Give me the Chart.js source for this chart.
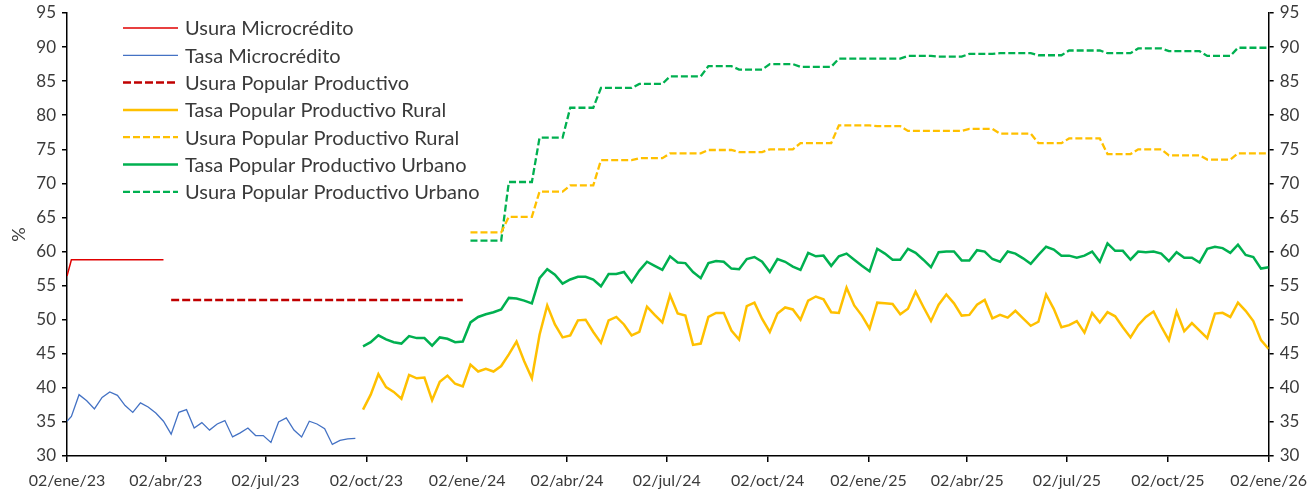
<!DOCTYPE html>
<html>
<head>
<meta charset="utf-8">
<script src="https://cdn.jsdelivr.net/npm/chart.js@4/dist/chart.umd.min.js"></script>
<style>
  body { margin: 0; background: #fff; }
  #wrap { width: 1316px; height: 491px; }
</style>
</head>
<body>
<div id="wrap"><canvas id="tasasChart" width="1316" height="491"></canvas></div>
<script>
// fechas de corte del eje x
const xTickDates = ['2023-01-02', '2023-04-02', '2023-07-02', '2023-10-02', '2024-01-02', '2024-04-02',
  '2024-07-02', '2024-10-02', '2025-01-02', '2025-04-02', '2025-07-02', '2025-10-02', '2026-01-02'];
const xTickLabels = ['02/ene/23', '02/abr/23', '02/jul/23', '02/oct/23', '02/ene/24', '02/abr/24',
  '02/jul/24', '02/oct/24', '02/ene/25', '02/abr/25', '02/jul/25', '02/oct/25', '02/ene/26'];
const yTicks = [30, 35, 40, 45, 50, 55, 60, 65, 70, 75, 80, 85, 90, 95];

// series semanales (viernes)
const inicioMicro = '2023-01-06';
const inicioUsuraPopular = '2023-04-07';
const inicioTasaPopular = '2023-09-29';
const inicioUsuraRuralUrbano = '2024-01-05';

const primerDiaMicro = '2023-01-02';
const usuraMicroInicial = 56.4;
const tasaMicroInicial = 35.1;

const usuraMicro = [58.8, 58.8, 58.8, 58.8, 58.8, 58.8, 58.8, 58.8, 58.8, 58.8, 58.8, 58.8, 58.8];

const tasaMicro = [35.8, 39.0, 38.1, 36.9, 38.6, 39.4, 38.9, 37.4, 36.4, 37.8, 37.2, 36.3, 35.1, 33.2,
  36.4, 36.8, 34.1, 34.9, 33.8, 34.7, 35.2, 32.8, 33.4, 34.1, 33.0, 33.0, 32.0, 35.0, 35.6, 33.8,
  32.8, 35.1, 34.7, 34.0, 31.7, 32.3, 32.5, 32.6];

const usuraPopular = [52.9, 52.9, 52.9, 52.9, 52.9, 52.9, 52.9, 52.9, 52.9, 52.9, 52.9, 52.9, 52.9,
  52.9, 52.9, 52.9, 52.9, 52.9, 52.9, 52.9, 52.9, 52.9, 52.9, 52.9, 52.9, 52.9, 52.9, 52.9, 52.9,
  52.9, 52.9, 52.9, 52.9, 52.9, 52.9, 52.9, 52.9, 52.9, 52.9];

const tasaRural = [36.8, 39.0, 42.0, 40.1, 39.4, 38.4, 41.9, 41.4, 41.5, 38.2, 40.9, 41.8, 40.6, 40.2,
  43.4, 42.4, 42.8, 42.4, 43.2, 44.9, 46.8, 43.9, 41.4, 47.8, 52.1, 49.3, 47.4, 47.7, 49.9, 50.0,
  48.2, 46.6, 49.9, 50.4, 49.3, 47.7, 48.2, 51.9, 50.7, 49.6, 53.6, 50.9, 50.6, 46.3, 46.5, 50.4,
  51.0, 51.0, 48.4, 47.1, 52.0, 52.5, 50.1, 48.2, 50.9, 51.8, 51.5, 50.0, 52.8, 53.4, 53.0, 51.1,
  51.0, 54.7, 52.1, 50.6, 48.7, 52.5, 52.4, 52.3, 50.8, 51.6, 54.1, 51.9, 49.8, 52.2, 53.7, 52.4,
  50.6, 50.7, 52.2, 52.9, 50.2, 50.7, 50.3, 51.3, 50.2, 49.1, 49.7, 53.7, 51.6, 48.9, 49.2, 49.8,
  48.1, 51.0, 49.6, 51.1, 50.5, 48.9, 47.4, 49.2, 50.4, 51.2, 49.0, 47.0, 51.2, 48.3, 49.5, 48.4,
  47.3, 50.9, 51.0, 50.4, 52.5, 51.3, 49.8, 47.0, 45.7];

const tasaUrbano = [46.1, 46.7, 47.7, 47.1, 46.7, 46.5, 47.6, 47.3, 47.3, 46.2, 47.4, 47.2, 46.7, 46.8,
  49.6, 50.4, 50.8, 51.1, 51.5, 53.2, 53.1, 52.8, 52.4, 56.1, 57.4, 56.6, 55.3, 55.9, 56.3, 56.3,
  55.9, 54.9, 56.7, 56.7, 57.0, 55.5, 57.2, 58.5, 57.9, 57.3, 59.3, 58.4, 58.3, 57.0, 56.1, 58.3,
  58.6, 58.5, 57.5, 57.4, 58.9, 59.2, 58.5, 57.0, 58.9, 58.5, 57.8, 57.3, 59.8, 59.3, 59.4, 57.9,
  59.3, 59.7, 58.8, 57.9, 57.1, 60.4, 59.7, 58.8, 58.8, 60.4, 59.8, 58.8, 57.7, 59.9, 60.0, 60.0,
  58.7, 58.7, 60.2, 60.0, 58.9, 58.5, 60.0, 59.7, 59.0, 58.2, 59.5, 60.7, 60.3, 59.4, 59.4, 59.1,
  59.4, 60.0, 58.5, 61.2, 60.1, 60.1, 58.8, 60.0, 59.9, 60.0, 59.7, 58.6, 59.9, 59.1, 59.1, 58.4,
  60.4, 60.7, 60.5, 59.8, 61.0, 59.5, 59.2, 57.5, 57.7];

const usuraRural = [62.8, 62.8, 62.8, 62.8, 62.8, 65.1, 65.1, 65.1, 65.1, 68.8, 68.8, 68.8, 68.8,
  69.7, 69.7, 69.7, 69.7, 73.4, 73.4, 73.4, 73.4, 73.4, 73.7, 73.7, 73.7, 73.7, 74.4, 74.4, 74.4,
  74.4, 74.4, 74.9, 74.9, 74.9, 74.9, 74.6, 74.6, 74.6, 74.6, 75.0, 75.0, 75.0, 75.0, 75.9, 75.9,
  75.9, 75.9, 75.9, 78.5, 78.5, 78.5, 78.5, 78.5, 78.4, 78.4, 78.4, 78.4, 77.7, 77.7, 77.7, 77.7,
  77.7, 77.7, 77.7, 77.7, 78.0, 78.0, 78.0, 78.0, 77.3, 77.3, 77.3, 77.3, 77.3, 75.9, 75.9, 75.9,
  75.9, 76.6, 76.6, 76.6, 76.6, 76.6, 74.3, 74.3, 74.3, 74.3, 75.0, 75.0, 75.0, 75.0, 74.1, 74.1,
  74.1, 74.1, 74.1, 73.5, 73.5, 73.5, 73.5, 74.4, 74.4, 74.4, 74.4, 74.4];

const usuraUrbano = [61.6, 61.6, 61.6, 61.6, 61.6, 70.2, 70.2, 70.2, 70.2, 76.7, 76.7, 76.7, 76.7,
  81.1, 81.1, 81.1, 81.1, 84.0, 84.0, 84.0, 84.0, 84.0, 84.6, 84.6, 84.6, 84.6, 85.7, 85.7, 85.7,
  85.7, 85.7, 87.2, 87.2, 87.2, 87.2, 86.7, 86.7, 86.7, 86.7, 87.5, 87.5, 87.5, 87.5, 87.1, 87.1,
  87.1, 87.1, 87.1, 88.3, 88.3, 88.3, 88.3, 88.3, 88.3, 88.3, 88.3, 88.3, 88.7, 88.7, 88.7, 88.7,
  88.6, 88.6, 88.6, 88.6, 89.0, 89.0, 89.0, 89.0, 89.1, 89.1, 89.1, 89.1, 89.1, 88.8, 88.8, 88.8,
  88.8, 89.5, 89.5, 89.5, 89.5, 89.5, 89.1, 89.1, 89.1, 89.1, 89.8, 89.8, 89.8, 89.8, 89.4, 89.4,
  89.4, 89.4, 89.4, 88.7, 88.7, 88.7, 88.7, 89.9, 89.9, 89.9, 89.9, 89.9];

// dias desde el 02/ene/23
const diaCero = Date.UTC(2023, 0, 2);
function dia(fecha) {
  const p = fecha.split('-').map(Number);
  return Math.round((Date.UTC(p[0], p[1] - 1, p[2]) - diaCero) / 86400000);
}
function semanal(inicio, valores) {
  const d0 = dia(inicio);
  return valores.map((v, i) => ({ x: d0 + 7 * i, y: v }));
}

const xTickDays = xTickDates.map(dia);
const textColor = '#3a3a3a';
const fontFam = 'Lato, "Open Sans", sans-serif';

const leyenda = {
  id: 'leyenda',
  afterDraw(chart) {
    const ctx = chart.ctx;
    ctx.save();
    ctx.font = '20px ' + fontFam;
    ctx.textBaseline = 'middle';
    ctx.textAlign = 'left';
    chart.data.datasets.forEach((ds, i) => {
      const y = 28 + i * 27.3;
      ctx.beginPath();
      ctx.strokeStyle = ds.borderColor;
      ctx.lineWidth = ds.borderWidth;
      ctx.setLineDash(ds.borderDash || []);
      ctx.moveTo(123, y);
      ctx.lineTo(178, y);
      ctx.stroke();
      ctx.setLineDash([]);
      ctx.fillStyle = textColor;
      ctx.fillText(ds.label, 185, y + 1);
    });
    ctx.restore();
  }
};

const ejeY = (pos, ancho) => ({
  type: 'linear',
  position: pos,
  min: 30,
  max: 95,
  afterBuildTicks: axis => { axis.ticks = yTicks.map(v => ({ value: v })); },
  afterFit: scale => { scale.width = ancho; scale.paddingTop = 13; },
  border: { display: true, color: '#000', width: 1.5 },
  grid: { drawOnChartArea: false, drawTicks: true, tickLength: 5, color: '#000', lineWidth: 1.5 },
  ticks: { color: textColor, font: { size: 17, family: fontFam }, padding: 6 }
});

const leftAxis = ejeY('left', 67);
leftAxis.title = { display: true, text: '%', color: textColor, font: { size: 18, family: fontFam }, padding: { top: 8, bottom: 0 } };

const ctx = document.getElementById('tasasChart').getContext('2d');
const tasasChart = new Chart(ctx, {
  type: 'line',
  data: {
    datasets: [
      { label: 'Usura Microcrédito', data: [{ x: dia(primerDiaMicro), y: usuraMicroInicial }].concat(semanal(inicioMicro, usuraMicro)),
        borderColor: '#e00000', borderWidth: 1.5 },
      { label: 'Tasa Microcrédito', data: [{ x: dia(primerDiaMicro), y: tasaMicroInicial }].concat(semanal(inicioMicro, tasaMicro)),
        borderColor: '#4472c4', borderWidth: 1.3 },
      { label: 'Usura Popular Productivo', data: semanal(inicioUsuraPopular, usuraPopular),
        borderColor: '#c00000', borderWidth: 2.5, borderDash: [8, 3] },
      { label: 'Tasa Popular Productivo Rural', data: semanal(inicioTasaPopular, tasaRural),
        borderColor: '#ffc000', borderWidth: 2.5 },
      { label: 'Usura Popular Productivo Rural', data: semanal(inicioUsuraRuralUrbano, usuraRural),
        borderColor: '#ffc000', borderWidth: 2.3, borderDash: [7, 3] },
      { label: 'Tasa Popular Productivo Urbano', data: semanal(inicioTasaPopular, tasaUrbano),
        borderColor: '#00b050', borderWidth: 2.5 },
      { label: 'Usura Popular Productivo Urbano', data: semanal(inicioUsuraRuralUrbano, usuraUrbano),
        borderColor: '#00b050', borderWidth: 2.3, borderDash: [7, 3] }
    ]
  },
  options: {
    responsive: false,
    animation: false,
    layout: { padding: { top: 0, left: 0, right: 0, bottom: 0 } },
    elements: { point: { radius: 0 }, line: { tension: 0, fill: false } },
    plugins: { legend: { display: false }, tooltip: { enabled: false } },
    scales: {
      x: {
        type: 'linear',
        min: 0,
        max: xTickDays[xTickDays.length - 1],
        afterBuildTicks: axis => { axis.ticks = xTickDays.map(v => ({ value: v })); },
        afterFit: scale => { scale.height = 35; },
        border: { display: true, color: '#000', width: 1.5 },
        grid: { drawOnChartArea: false, drawTicks: true, tickLength: 6, color: '#000', lineWidth: 1.5 },
        ticks: {
          color: textColor, font: { size: 16, family: fontFam }, padding: 9,
          maxRotation: 0, autoSkip: false,
          callback: v => xTickLabels[xTickDays.indexOf(v)]
        }
      },
      y: leftAxis,
      y2: ejeY('right', 46)
    }
  },
  plugins: [leyenda]
});
</script>
</body>
</html>
